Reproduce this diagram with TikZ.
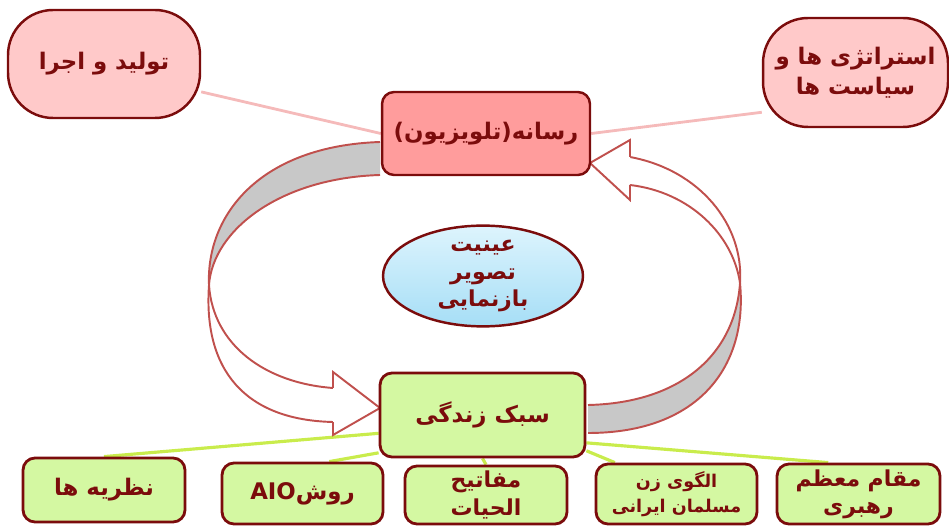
\documentclass[tikz,border=0pt]{standalone}
\usepackage{fontspec}
\usetikzlibrary{shapes.geometric}
\TeXXeTstate=1
\newfontfamily\fa[Script=Arabic]{DejaVu Sans}
\newcommand{\rl}[1]{\beginR #1\endR}

\pgfdeclarelayer{background}
\pgfsetlayers{background,main}

\definecolor{boxline}{HTML}{7B0C0C}
\definecolor{pinkfill}{HTML}{FFC9C9}
\definecolor{mediafill}{HTML}{FF9C9C}
\definecolor{greenfill}{HTML}{D4F8A2}
\definecolor{arrowline}{HTML}{C0504D}
\definecolor{bandgray}{HTML}{C8C8C8}
\definecolor{pinkline}{HTML}{F5BABA}
\definecolor{greenline}{HTML}{C9EC4C}
\definecolor{skytop}{HTML}{DDF4FD}
\definecolor{skybottom}{HTML}{A6DEF6}

\tikzset{
  farsi/.style={text=boxline, font=\fa\bfseries\fontsize{13}{17}\selectfont, align=center, inner sep=0pt},
  tight/.style={font=\fa\bfseries\fontsize{12.5}{15.5}\selectfont},
  pill/.style={farsi, draw=boxline, line width=1.4pt, fill=pinkfill, rounded corners=0.9cm},
  mediabox/.style={farsi, draw=boxline, line width=1.4pt, fill=mediafill, rounded corners=0.24cm},
  greenbox/.style={farsi, draw=boxline, line width=1.6pt, fill=greenfill, rounded corners=0.24cm},
  band/.style={draw=arrowline, line width=1.1pt},
  pinklink/.style={draw=pinkline, line width=1.6pt},
  greenlink/.style={draw=greenline, line width=1.8pt},
}

\begin{document}
\begin{tikzpicture}[x=0.02cm,y=-0.02cm]
    \useasboundingbox (0,0) rectangle (949,526);

    % top row
    \node[pill, minimum width=3.84cm, minimum height=2.16cm] (prod) at (104,64) {\rl{تولید و اجرا}};
    \node[pill, minimum width=3.7cm, minimum height=2.18cm] (strat) at (855.5,72.5) {\rl{استراتژی ها و}\\\rl{سیاست ها}};
    \node[mediabox, minimum width=4.16cm, minimum height=1.66cm] (media) at (486,133.5) {\rl{رسانه(تلویزیون)}};

    % middle
    \node[ellipse, draw=boxline, line width=1.4pt, top color=skytop, bottom color=skybottom,
          minimum width=4cm, minimum height=1.96cm, farsi, tight] (view) at (483,276)
          {\rl{عینیت}\\\rl{تصویر}\\\rl{بازنمایی}};
    \node[greenbox, minimum width=4.1cm, minimum height=1.68cm] (life) at (482.5,415) {\rl{سبک زندگی}};

    % bottom row
    \node[greenbox, minimum width=3.24cm, minimum height=1.28cm] (theory) at (104,490) {\rl{نظریه ها}};
    \node[greenbox, minimum width=3.22cm, minimum height=1.22cm] (aio) at (302.5,493.5) {\rl{روش\beginL AIO\endL}};
    \node[greenbox, tight, minimum width=3.24cm, minimum height=1.16cm] (mafatih) at (486,495) {\rl{مفاتیح}\\\rl{الحیات}};
    \node[greenbox, minimum width=3.22cm, minimum height=1.2cm, font=\fa\bfseries\fontsize{10}{14}\selectfont] (olgu) at (676.5,494) {\rl{الگوی زن}\\\rl{مسلمان ایرانی}};
    \node[greenbox, tight, minimum width=3.26cm, minimum height=1.2cm] (maqam) at (858.5,494) {\rl{مقام معظم}\\\rl{رهبری}};

    \begin{pgfonlayer}{background}
    % links
    \draw[pinklink] (prod.-16) -- (media.west);
    \draw[pinklink] (media.east) -- (strat.203);
    \draw[greenlink] (life.190) -- (theory.north);
    \draw[greenlink] (life.200) -- (aio.50);
    \draw[greenlink] (life.south) -- (mafatih.north);
    \draw[greenlink] (life.-19) -- (olgu.153);
    \draw[greenlink] (life.-15) -- (maqam.134);

    % left band arrow
    \fill[bandgray] (380,142) .. controls (260,146) and (206,215) .. (209,285)
        .. controls (213,230) and (280,178) .. (380,175) -- cycle;
    \draw[band] (380,142) .. controls (260,146) and (206,215) .. (209,285)
        .. controls (213,345) and (265,383) .. (333,388);
    \draw[band] (380,175) .. controls (280,178) and (213,230) .. (209,285)
        .. controls (203,370) and (245,420) .. (333,422);
    \draw[band, fill=white] (333,388) -- (333,372) -- (380,408) -- (333,435) -- (333,422);

    % right band arrow
    \fill[bandgray] (588,405) .. controls (680,403) and (735,355) .. (740,283)
        .. controls (748,365) and (700,433) .. (588,433) -- cycle;
    \draw[band] (588,405) .. controls (680,403) and (735,355) .. (740,283)
        .. controls (744,225) and (700,170) .. (630,157);
    \draw[band] (588,433) .. controls (700,433) and (748,365) .. (740,283)
        .. controls (733,235) and (690,192) .. (630,185);
    \draw[band, fill=white] (630,157) -- (630,140) -- (590,163) -- (630,200) -- (630,185);
    \end{pgfonlayer}
\end{tikzpicture}
\end{document}
